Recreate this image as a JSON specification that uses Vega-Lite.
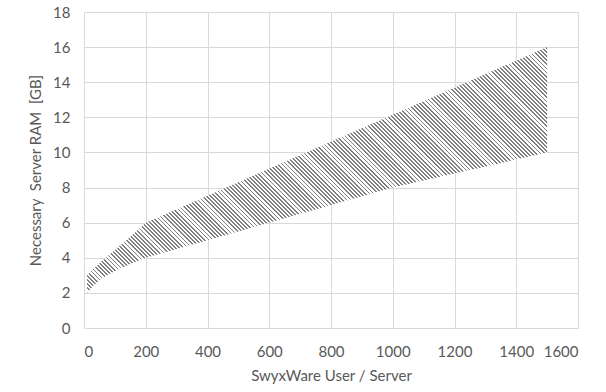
{
  "$schema": "https://vega.github.io/schema/vega-lite/v6.json",
  "width": 494,
  "height": 316,
  "autosize": "none",
  "padding": {"left": 84, "top": 12, "right": 28, "bottom": 64},
  "background": "white",
  "config": {
    "view": {"stroke": null},
    "font": "Lato",
    "axis": {
      "domain": false,
      "ticks": false,
      "tickSize": 0,
      "gridColor": "#d9d9d9",
      "gridWidth": 1,
      "labelColor": "#595959",
      "titleColor": "#595959",
      "labelFont": "Lato",
      "titleFont": "Lato",
      "labelFontSize": 15,
      "titleFontSize": 15,
      "titleFontWeight": "normal"
    }
  },
  "data": {
    "values": [
      {"users": 10, "low": 2.0, "high": 3.0},
      {"users": 30, "low": 2.4, "high": 3.35},
      {"users": 60, "low": 2.85, "high": 3.85},
      {"users": 100, "low": 3.25, "high": 4.45},
      {"users": 150, "low": 3.65, "high": 5.2},
      {"users": 200, "low": 4.0, "high": 6.0},
      {"users": 1000, "low": 8.0, "high": 12.15},
      {"users": 1500, "low": 10.0, "high": 16.0}
    ]
  },
  "encoding": {
    "x": {
      "field": "users",
      "type": "quantitative",
      "scale": {"domain": [0, 1600], "nice": false},
      "axis": {
        "values": [0, 200, 400, 600, 800, 1000, 1200, 1400, 1600],
        "format": "d",
        "title": "SwyxWare User / Server",
        "labelPadding": 16,
        "titlePadding": 9
      }
    },
    "y": {
      "field": "high",
      "type": "quantitative",
      "scale": {"domain": [0, 18], "nice": false},
      "axis": {
        "values": [0, 2, 4, 6, 8, 10, 12, 14, 16, 18],
        "format": "d",
        "title": "Necessary\u00a0 Server RAM\u00a0 [GB]",
        "labelPadding": 14,
        "titlePadding": 9
      }
    },
    "y2": {"field": "low"}
  },
  "layer": [
    {"mark": {"type": "area", "orient": "vertical", "color": "white"}},
    {"mark": {"type": "area", "orient": "vertical", "color": {
      "gradient": "linear", "x1": 0, "y1": 1, "x2": 1, "y2": 0.46574,
      "stops": [
{"offset":0,"color":"gray"},{"offset":0.003,"color":"gray"},{"offset":0.003,"color":"#fff0"},{"offset":0.007,"color":"#fff0"},
{"offset":0.007,"color":"gray"},{"offset":0.01,"color":"gray"},{"offset":0.01,"color":"#fff0"},{"offset":0.014,"color":"#fff0"},
{"offset":0.014,"color":"gray"},{"offset":0.017,"color":"gray"},{"offset":0.017,"color":"#fff0"},{"offset":0.021,"color":"#fff0"},
{"offset":0.021,"color":"gray"},{"offset":0.024,"color":"gray"},{"offset":0.024,"color":"#fff0"},{"offset":0.028,"color":"#fff0"},
{"offset":0.028,"color":"gray"},{"offset":0.031,"color":"gray"},{"offset":0.031,"color":"#fff0"},{"offset":0.035,"color":"#fff0"},
{"offset":0.035,"color":"gray"},{"offset":0.038,"color":"gray"},{"offset":0.038,"color":"#fff0"},{"offset":0.042,"color":"#fff0"},
{"offset":0.042,"color":"gray"},{"offset":0.045,"color":"gray"},{"offset":0.045,"color":"#fff0"},{"offset":0.049,"color":"#fff0"},
{"offset":0.049,"color":"gray"},{"offset":0.052,"color":"gray"},{"offset":0.052,"color":"#fff0"},{"offset":0.056,"color":"#fff0"},
{"offset":0.056,"color":"gray"},{"offset":0.059,"color":"gray"},{"offset":0.059,"color":"#fff0"},{"offset":0.063,"color":"#fff0"},
{"offset":0.063,"color":"gray"},{"offset":0.066,"color":"gray"},{"offset":0.066,"color":"#fff0"},{"offset":0.07,"color":"#fff0"},
{"offset":0.07,"color":"gray"},{"offset":0.073,"color":"gray"},{"offset":0.073,"color":"#fff0"},{"offset":0.077,"color":"#fff0"},
{"offset":0.077,"color":"gray"},{"offset":0.08,"color":"gray"},{"offset":0.08,"color":"#fff0"},{"offset":0.084,"color":"#fff0"},
{"offset":0.084,"color":"gray"},{"offset":0.087,"color":"gray"},{"offset":0.087,"color":"#fff0"},{"offset":0.091,"color":"#fff0"},
{"offset":0.091,"color":"gray"},{"offset":0.094,"color":"gray"},{"offset":0.094,"color":"#fff0"},{"offset":0.098,"color":"#fff0"},
{"offset":0.098,"color":"gray"},{"offset":0.101,"color":"gray"},{"offset":0.101,"color":"#fff0"},{"offset":0.105,"color":"#fff0"},
{"offset":0.105,"color":"gray"},{"offset":0.108,"color":"gray"},{"offset":0.108,"color":"#fff0"},{"offset":0.112,"color":"#fff0"},
{"offset":0.112,"color":"gray"},{"offset":0.115,"color":"gray"},{"offset":0.115,"color":"#fff0"},{"offset":0.119,"color":"#fff0"},
{"offset":0.119,"color":"gray"},{"offset":0.122,"color":"gray"},{"offset":0.122,"color":"#fff0"},{"offset":0.126,"color":"#fff0"},
{"offset":0.126,"color":"gray"},{"offset":0.129,"color":"gray"},{"offset":0.129,"color":"#fff0"},{"offset":0.133,"color":"#fff0"},
{"offset":0.133,"color":"gray"},{"offset":0.136,"color":"gray"},{"offset":0.136,"color":"#fff0"},{"offset":0.14,"color":"#fff0"},
{"offset":0.14,"color":"gray"},{"offset":0.143,"color":"gray"},{"offset":0.143,"color":"#fff0"},{"offset":0.147,"color":"#fff0"},
{"offset":0.147,"color":"gray"},{"offset":0.15,"color":"gray"},{"offset":0.15,"color":"#fff0"},{"offset":0.154,"color":"#fff0"},
{"offset":0.154,"color":"gray"},{"offset":0.157,"color":"gray"},{"offset":0.157,"color":"#fff0"},{"offset":0.161,"color":"#fff0"},
{"offset":0.161,"color":"gray"},{"offset":0.164,"color":"gray"},{"offset":0.164,"color":"#fff0"},{"offset":0.168,"color":"#fff0"},
{"offset":0.168,"color":"gray"},{"offset":0.171,"color":"gray"},{"offset":0.171,"color":"#fff0"},{"offset":0.175,"color":"#fff0"},
{"offset":0.175,"color":"gray"},{"offset":0.178,"color":"gray"},{"offset":0.178,"color":"#fff0"},{"offset":0.182,"color":"#fff0"},
{"offset":0.182,"color":"gray"},{"offset":0.185,"color":"gray"},{"offset":0.185,"color":"#fff0"},{"offset":0.189,"color":"#fff0"},
{"offset":0.189,"color":"gray"},{"offset":0.192,"color":"gray"},{"offset":0.192,"color":"#fff0"},{"offset":0.196,"color":"#fff0"},
{"offset":0.196,"color":"gray"},{"offset":0.199,"color":"gray"},{"offset":0.199,"color":"#fff0"},{"offset":0.203,"color":"#fff0"},
{"offset":0.203,"color":"gray"},{"offset":0.206,"color":"gray"},{"offset":0.206,"color":"#fff0"},{"offset":0.21,"color":"#fff0"},
{"offset":0.21,"color":"gray"},{"offset":0.213,"color":"gray"},{"offset":0.213,"color":"#fff0"},{"offset":0.217,"color":"#fff0"},
{"offset":0.217,"color":"gray"},{"offset":0.22,"color":"gray"},{"offset":0.22,"color":"#fff0"},{"offset":0.224,"color":"#fff0"},
{"offset":0.224,"color":"gray"},{"offset":0.227,"color":"gray"},{"offset":0.227,"color":"#fff0"},{"offset":0.231,"color":"#fff0"},
{"offset":0.231,"color":"gray"},{"offset":0.234,"color":"gray"},{"offset":0.234,"color":"#fff0"},{"offset":0.238,"color":"#fff0"},
{"offset":0.238,"color":"gray"},{"offset":0.241,"color":"gray"},{"offset":0.241,"color":"#fff0"},{"offset":0.245,"color":"#fff0"},
{"offset":0.245,"color":"gray"},{"offset":0.248,"color":"gray"},{"offset":0.248,"color":"#fff0"},{"offset":0.252,"color":"#fff0"},
{"offset":0.252,"color":"gray"},{"offset":0.255,"color":"gray"},{"offset":0.255,"color":"#fff0"},{"offset":0.259,"color":"#fff0"},
{"offset":0.259,"color":"gray"},{"offset":0.262,"color":"gray"},{"offset":0.262,"color":"#fff0"},{"offset":0.266,"color":"#fff0"},
{"offset":0.266,"color":"gray"},{"offset":0.269,"color":"gray"},{"offset":0.269,"color":"#fff0"},{"offset":0.273,"color":"#fff0"},
{"offset":0.273,"color":"gray"},{"offset":0.276,"color":"gray"},{"offset":0.276,"color":"#fff0"},{"offset":0.28,"color":"#fff0"},
{"offset":0.28,"color":"gray"},{"offset":0.283,"color":"gray"},{"offset":0.283,"color":"#fff0"},{"offset":0.287,"color":"#fff0"},
{"offset":0.287,"color":"gray"},{"offset":0.29,"color":"gray"},{"offset":0.29,"color":"#fff0"},{"offset":0.294,"color":"#fff0"},
{"offset":0.294,"color":"gray"},{"offset":0.297,"color":"gray"},{"offset":0.297,"color":"#fff0"},{"offset":0.301,"color":"#fff0"},
{"offset":0.301,"color":"gray"},{"offset":0.304,"color":"gray"},{"offset":0.304,"color":"#fff0"},{"offset":0.308,"color":"#fff0"},
{"offset":0.308,"color":"gray"},{"offset":0.311,"color":"gray"},{"offset":0.311,"color":"#fff0"},{"offset":0.315,"color":"#fff0"},
{"offset":0.315,"color":"gray"},{"offset":0.318,"color":"gray"},{"offset":0.318,"color":"#fff0"},{"offset":0.322,"color":"#fff0"},
{"offset":0.322,"color":"gray"},{"offset":0.325,"color":"gray"},{"offset":0.325,"color":"#fff0"},{"offset":0.329,"color":"#fff0"},
{"offset":0.329,"color":"gray"},{"offset":0.332,"color":"gray"},{"offset":0.332,"color":"#fff0"},{"offset":0.336,"color":"#fff0"},
{"offset":0.336,"color":"gray"},{"offset":0.339,"color":"gray"},{"offset":0.339,"color":"#fff0"},{"offset":0.343,"color":"#fff0"},
{"offset":0.343,"color":"gray"},{"offset":0.346,"color":"gray"},{"offset":0.346,"color":"#fff0"},{"offset":0.35,"color":"#fff0"},
{"offset":0.35,"color":"gray"},{"offset":0.353,"color":"gray"},{"offset":0.353,"color":"#fff0"},{"offset":0.357,"color":"#fff0"},
{"offset":0.357,"color":"gray"},{"offset":0.36,"color":"gray"},{"offset":0.36,"color":"#fff0"},{"offset":0.364,"color":"#fff0"},
{"offset":0.364,"color":"gray"},{"offset":0.367,"color":"gray"},{"offset":0.367,"color":"#fff0"},{"offset":0.371,"color":"#fff0"},
{"offset":0.371,"color":"gray"},{"offset":0.374,"color":"gray"},{"offset":0.374,"color":"#fff0"},{"offset":0.378,"color":"#fff0"},
{"offset":0.378,"color":"gray"},{"offset":0.381,"color":"gray"},{"offset":0.381,"color":"#fff0"},{"offset":0.385,"color":"#fff0"},
{"offset":0.385,"color":"gray"},{"offset":0.388,"color":"gray"},{"offset":0.388,"color":"#fff0"},{"offset":0.392,"color":"#fff0"},
{"offset":0.392,"color":"gray"},{"offset":0.395,"color":"gray"},{"offset":0.395,"color":"#fff0"},{"offset":0.399,"color":"#fff0"},
{"offset":0.399,"color":"gray"},{"offset":0.402,"color":"gray"},{"offset":0.402,"color":"#fff0"},{"offset":0.406,"color":"#fff0"},
{"offset":0.406,"color":"gray"},{"offset":0.409,"color":"gray"},{"offset":0.409,"color":"#fff0"},{"offset":0.413,"color":"#fff0"},
{"offset":0.413,"color":"gray"},{"offset":0.416,"color":"gray"},{"offset":0.416,"color":"#fff0"},{"offset":0.42,"color":"#fff0"},
{"offset":0.42,"color":"gray"},{"offset":0.423,"color":"gray"},{"offset":0.423,"color":"#fff0"},{"offset":0.427,"color":"#fff0"},
{"offset":0.427,"color":"gray"},{"offset":0.43,"color":"gray"},{"offset":0.43,"color":"#fff0"},{"offset":0.434,"color":"#fff0"},
{"offset":0.434,"color":"gray"},{"offset":0.437,"color":"gray"},{"offset":0.437,"color":"#fff0"},{"offset":0.441,"color":"#fff0"},
{"offset":0.441,"color":"gray"},{"offset":0.444,"color":"gray"},{"offset":0.444,"color":"#fff0"},{"offset":0.448,"color":"#fff0"},
{"offset":0.448,"color":"gray"},{"offset":0.451,"color":"gray"},{"offset":0.451,"color":"#fff0"},{"offset":0.455,"color":"#fff0"},
{"offset":0.455,"color":"gray"},{"offset":0.458,"color":"gray"},{"offset":0.458,"color":"#fff0"},{"offset":0.462,"color":"#fff0"},
{"offset":0.462,"color":"gray"},{"offset":0.465,"color":"gray"},{"offset":0.465,"color":"#fff0"},{"offset":0.469,"color":"#fff0"},
{"offset":0.469,"color":"gray"},{"offset":0.472,"color":"gray"},{"offset":0.472,"color":"#fff0"},{"offset":0.476,"color":"#fff0"},
{"offset":0.476,"color":"gray"},{"offset":0.479,"color":"gray"},{"offset":0.479,"color":"#fff0"},{"offset":0.483,"color":"#fff0"},
{"offset":0.483,"color":"gray"},{"offset":0.486,"color":"gray"},{"offset":0.486,"color":"#fff0"},{"offset":0.49,"color":"#fff0"},
{"offset":0.49,"color":"gray"},{"offset":0.493,"color":"gray"},{"offset":0.493,"color":"#fff0"},{"offset":0.497,"color":"#fff0"},
{"offset":0.497,"color":"gray"},{"offset":0.5,"color":"gray"},{"offset":0.5,"color":"#fff0"},{"offset":0.504,"color":"#fff0"},
{"offset":0.504,"color":"gray"},{"offset":0.507,"color":"gray"},{"offset":0.507,"color":"#fff0"},{"offset":0.511,"color":"#fff0"},
{"offset":0.511,"color":"gray"},{"offset":0.514,"color":"gray"},{"offset":0.514,"color":"#fff0"},{"offset":0.518,"color":"#fff0"},
{"offset":0.518,"color":"gray"},{"offset":0.521,"color":"gray"},{"offset":0.521,"color":"#fff0"},{"offset":0.525,"color":"#fff0"},
{"offset":0.525,"color":"gray"},{"offset":0.528,"color":"gray"},{"offset":0.528,"color":"#fff0"},{"offset":0.532,"color":"#fff0"},
{"offset":0.532,"color":"gray"},{"offset":0.535,"color":"gray"},{"offset":0.535,"color":"#fff0"},{"offset":0.539,"color":"#fff0"},
{"offset":0.539,"color":"gray"},{"offset":0.542,"color":"gray"},{"offset":0.542,"color":"#fff0"},{"offset":0.546,"color":"#fff0"},
{"offset":0.546,"color":"gray"},{"offset":0.549,"color":"gray"},{"offset":0.549,"color":"#fff0"},{"offset":0.553,"color":"#fff0"},
{"offset":0.553,"color":"gray"},{"offset":0.556,"color":"gray"},{"offset":0.556,"color":"#fff0"},{"offset":0.56,"color":"#fff0"},
{"offset":0.56,"color":"gray"},{"offset":0.563,"color":"gray"},{"offset":0.563,"color":"#fff0"},{"offset":0.567,"color":"#fff0"},
{"offset":0.567,"color":"gray"},{"offset":0.57,"color":"gray"},{"offset":0.57,"color":"#fff0"},{"offset":0.574,"color":"#fff0"},
{"offset":0.574,"color":"gray"},{"offset":0.577,"color":"gray"},{"offset":0.577,"color":"#fff0"},{"offset":0.581,"color":"#fff0"},
{"offset":0.581,"color":"gray"},{"offset":0.584,"color":"gray"},{"offset":0.584,"color":"#fff0"},{"offset":0.588,"color":"#fff0"},
{"offset":0.588,"color":"gray"},{"offset":0.591,"color":"gray"},{"offset":0.591,"color":"#fff0"},{"offset":0.595,"color":"#fff0"},
{"offset":0.595,"color":"gray"},{"offset":0.598,"color":"gray"},{"offset":0.598,"color":"#fff0"},{"offset":0.602,"color":"#fff0"},
{"offset":0.602,"color":"gray"},{"offset":0.605,"color":"gray"},{"offset":0.605,"color":"#fff0"},{"offset":0.609,"color":"#fff0"},
{"offset":0.609,"color":"gray"},{"offset":0.612,"color":"gray"},{"offset":0.612,"color":"#fff0"},{"offset":0.616,"color":"#fff0"},
{"offset":0.616,"color":"gray"},{"offset":0.619,"color":"gray"},{"offset":0.619,"color":"#fff0"},{"offset":0.623,"color":"#fff0"},
{"offset":0.623,"color":"gray"},{"offset":0.626,"color":"gray"},{"offset":0.626,"color":"#fff0"},{"offset":0.63,"color":"#fff0"},
{"offset":0.63,"color":"gray"},{"offset":0.633,"color":"gray"},{"offset":0.633,"color":"#fff0"},{"offset":0.637,"color":"#fff0"},
{"offset":0.637,"color":"gray"},{"offset":0.64,"color":"gray"},{"offset":0.64,"color":"#fff0"},{"offset":0.644,"color":"#fff0"},
{"offset":0.644,"color":"gray"},{"offset":0.647,"color":"gray"},{"offset":0.647,"color":"#fff0"},{"offset":0.651,"color":"#fff0"},
{"offset":0.651,"color":"gray"},{"offset":0.654,"color":"gray"},{"offset":0.654,"color":"#fff0"},{"offset":0.658,"color":"#fff0"},
{"offset":0.658,"color":"gray"},{"offset":0.661,"color":"gray"},{"offset":0.661,"color":"#fff0"},{"offset":0.665,"color":"#fff0"},
{"offset":0.665,"color":"gray"},{"offset":0.668,"color":"gray"},{"offset":0.668,"color":"#fff0"},{"offset":0.672,"color":"#fff0"},
{"offset":0.672,"color":"gray"},{"offset":0.675,"color":"gray"},{"offset":0.675,"color":"#fff0"},{"offset":0.679,"color":"#fff0"},
{"offset":0.679,"color":"gray"},{"offset":0.682,"color":"gray"},{"offset":0.682,"color":"#fff0"},{"offset":0.686,"color":"#fff0"},
{"offset":0.686,"color":"gray"},{"offset":0.689,"color":"gray"},{"offset":0.689,"color":"#fff0"},{"offset":0.693,"color":"#fff0"},
{"offset":0.693,"color":"gray"},{"offset":0.696,"color":"gray"},{"offset":0.696,"color":"#fff0"},{"offset":0.7,"color":"#fff0"},
{"offset":0.7,"color":"gray"},{"offset":0.703,"color":"gray"},{"offset":0.703,"color":"#fff0"},{"offset":0.707,"color":"#fff0"},
{"offset":0.707,"color":"gray"},{"offset":0.71,"color":"gray"},{"offset":0.71,"color":"#fff0"},{"offset":0.714,"color":"#fff0"},
{"offset":0.714,"color":"gray"},{"offset":0.717,"color":"gray"},{"offset":0.717,"color":"#fff0"},{"offset":0.721,"color":"#fff0"},
{"offset":0.721,"color":"gray"},{"offset":0.724,"color":"gray"},{"offset":0.724,"color":"#fff0"},{"offset":0.728,"color":"#fff0"},
{"offset":0.728,"color":"gray"},{"offset":0.731,"color":"gray"},{"offset":0.731,"color":"#fff0"},{"offset":0.735,"color":"#fff0"},
{"offset":0.735,"color":"gray"},{"offset":0.738,"color":"gray"},{"offset":0.738,"color":"#fff0"},{"offset":0.742,"color":"#fff0"},
{"offset":0.742,"color":"gray"},{"offset":0.745,"color":"gray"},{"offset":0.745,"color":"#fff0"},{"offset":0.749,"color":"#fff0"},
{"offset":0.749,"color":"gray"},{"offset":0.752,"color":"gray"},{"offset":0.752,"color":"#fff0"},{"offset":0.756,"color":"#fff0"},
{"offset":0.756,"color":"gray"},{"offset":0.759,"color":"gray"},{"offset":0.759,"color":"#fff0"},{"offset":0.763,"color":"#fff0"},
{"offset":0.763,"color":"gray"},{"offset":0.766,"color":"gray"},{"offset":0.766,"color":"#fff0"},{"offset":0.77,"color":"#fff0"},
{"offset":0.77,"color":"gray"},{"offset":0.773,"color":"gray"},{"offset":0.773,"color":"#fff0"},{"offset":0.777,"color":"#fff0"},
{"offset":0.777,"color":"gray"},{"offset":0.78,"color":"gray"},{"offset":0.78,"color":"#fff0"},{"offset":0.784,"color":"#fff0"},
{"offset":0.784,"color":"gray"},{"offset":0.787,"color":"gray"},{"offset":0.787,"color":"#fff0"},{"offset":0.791,"color":"#fff0"},
{"offset":0.791,"color":"gray"},{"offset":0.794,"color":"gray"},{"offset":0.794,"color":"#fff0"},{"offset":0.798,"color":"#fff0"},
{"offset":0.798,"color":"gray"},{"offset":0.801,"color":"gray"},{"offset":0.801,"color":"#fff0"},{"offset":0.805,"color":"#fff0"},
{"offset":0.805,"color":"gray"},{"offset":0.808,"color":"gray"},{"offset":0.808,"color":"#fff0"},{"offset":0.812,"color":"#fff0"},
{"offset":0.812,"color":"gray"},{"offset":0.815,"color":"gray"},{"offset":0.815,"color":"#fff0"},{"offset":0.819,"color":"#fff0"},
{"offset":0.819,"color":"gray"},{"offset":0.822,"color":"gray"},{"offset":0.822,"color":"#fff0"},{"offset":0.826,"color":"#fff0"},
{"offset":0.826,"color":"gray"},{"offset":0.829,"color":"gray"},{"offset":0.829,"color":"#fff0"},{"offset":0.833,"color":"#fff0"},
{"offset":0.833,"color":"gray"},{"offset":0.836,"color":"gray"},{"offset":0.836,"color":"#fff0"},{"offset":0.84,"color":"#fff0"},
{"offset":0.84,"color":"gray"},{"offset":0.843,"color":"gray"},{"offset":0.843,"color":"#fff0"},{"offset":0.847,"color":"#fff0"},
{"offset":0.847,"color":"gray"},{"offset":0.85,"color":"gray"},{"offset":0.85,"color":"#fff0"},{"offset":0.854,"color":"#fff0"},
{"offset":0.854,"color":"gray"},{"offset":0.857,"color":"gray"},{"offset":0.857,"color":"#fff0"},{"offset":0.861,"color":"#fff0"},
{"offset":0.861,"color":"gray"},{"offset":0.864,"color":"gray"},{"offset":0.864,"color":"#fff0"},{"offset":0.868,"color":"#fff0"},
{"offset":0.868,"color":"gray"},{"offset":0.871,"color":"gray"},{"offset":0.871,"color":"#fff0"},{"offset":0.875,"color":"#fff0"},
{"offset":0.875,"color":"gray"},{"offset":0.878,"color":"gray"},{"offset":0.878,"color":"#fff0"},{"offset":0.882,"color":"#fff0"},
{"offset":0.882,"color":"gray"},{"offset":0.885,"color":"gray"},{"offset":0.885,"color":"#fff0"},{"offset":0.889,"color":"#fff0"},
{"offset":0.889,"color":"gray"},{"offset":0.892,"color":"gray"},{"offset":0.892,"color":"#fff0"},{"offset":0.896,"color":"#fff0"},
{"offset":0.896,"color":"gray"},{"offset":0.899,"color":"gray"},{"offset":0.899,"color":"#fff0"},{"offset":0.903,"color":"#fff0"},
{"offset":0.903,"color":"gray"},{"offset":0.906,"color":"gray"},{"offset":0.906,"color":"#fff0"},{"offset":0.91,"color":"#fff0"},
{"offset":0.91,"color":"gray"},{"offset":0.913,"color":"gray"},{"offset":0.913,"color":"#fff0"},{"offset":0.917,"color":"#fff0"},
{"offset":0.917,"color":"gray"},{"offset":0.92,"color":"gray"},{"offset":0.92,"color":"#fff0"},{"offset":0.924,"color":"#fff0"},
{"offset":0.924,"color":"gray"},{"offset":0.927,"color":"gray"},{"offset":0.927,"color":"#fff0"},{"offset":0.931,"color":"#fff0"},
{"offset":0.931,"color":"gray"},{"offset":0.934,"color":"gray"},{"offset":0.934,"color":"#fff0"},{"offset":0.938,"color":"#fff0"},
{"offset":0.938,"color":"gray"},{"offset":0.941,"color":"gray"},{"offset":0.941,"color":"#fff0"},{"offset":0.945,"color":"#fff0"},
{"offset":0.945,"color":"gray"},{"offset":0.948,"color":"gray"},{"offset":0.948,"color":"#fff0"},{"offset":0.952,"color":"#fff0"},
{"offset":0.952,"color":"gray"},{"offset":0.955,"color":"gray"},{"offset":0.955,"color":"#fff0"},{"offset":0.959,"color":"#fff0"},
{"offset":0.959,"color":"gray"},{"offset":0.962,"color":"gray"},{"offset":0.962,"color":"#fff0"},{"offset":0.966,"color":"#fff0"},
{"offset":0.966,"color":"gray"},{"offset":0.969,"color":"gray"},{"offset":0.969,"color":"#fff0"},{"offset":0.973,"color":"#fff0"},
{"offset":0.973,"color":"gray"},{"offset":0.976,"color":"gray"},{"offset":0.976,"color":"#fff0"},{"offset":0.98,"color":"#fff0"},
{"offset":0.98,"color":"gray"},{"offset":0.983,"color":"gray"},{"offset":0.983,"color":"#fff0"},{"offset":0.987,"color":"#fff0"},
{"offset":0.987,"color":"gray"},{"offset":0.99,"color":"gray"},{"offset":0.99,"color":"#fff0"},{"offset":0.994,"color":"#fff0"},
{"offset":0.994,"color":"gray"},{"offset":0.997,"color":"gray"},{"offset":0.997,"color":"#fff0"},{"offset":1,"color":"#fff0"}
      ]}}},
    {"mark": {"type": "area", "orient": "vertical", "color": {
      "gradient": "linear", "x1": 1, "y1": 0, "x2": 0, "y2": 0.53426,
      "stops": [
{"offset":0,"color":"#fff0"},
{"offset":0.00057,"color":"#fff0"},{"offset":0.00057,"color":"gray"},{"offset":0.00357,"color":"gray"},{"offset":0.00357,"color":"#fff0"},
{"offset":0.00757,"color":"#fff0"},{"offset":0.00757,"color":"gray"},{"offset":0.01057,"color":"gray"},{"offset":0.01057,"color":"#fff0"},
{"offset":0.01457,"color":"#fff0"},{"offset":0.01457,"color":"gray"},{"offset":0.01757,"color":"gray"},{"offset":0.01757,"color":"#fff0"},
{"offset":0.02157,"color":"#fff0"},{"offset":0.02157,"color":"gray"},{"offset":0.02457,"color":"gray"},{"offset":0.02457,"color":"#fff0"},
{"offset":0.02857,"color":"#fff0"},{"offset":0.02857,"color":"gray"},{"offset":0.03157,"color":"gray"},{"offset":0.03157,"color":"#fff0"},
{"offset":0.03557,"color":"#fff0"},{"offset":0.03557,"color":"gray"},{"offset":0.03857,"color":"gray"},{"offset":0.03857,"color":"#fff0"},
{"offset":0.04257,"color":"#fff0"},{"offset":0.04257,"color":"gray"},{"offset":0.04557,"color":"gray"},{"offset":0.04557,"color":"#fff0"},
{"offset":0.04957,"color":"#fff0"},{"offset":0.04957,"color":"gray"},{"offset":0.05257,"color":"gray"},{"offset":0.05257,"color":"#fff0"},
{"offset":0.05657,"color":"#fff0"},{"offset":0.05657,"color":"gray"},{"offset":0.05957,"color":"gray"},{"offset":0.05957,"color":"#fff0"},
{"offset":0.06357,"color":"#fff0"},{"offset":0.06357,"color":"gray"},{"offset":0.06657,"color":"gray"},{"offset":0.06657,"color":"#fff0"},
{"offset":0.07057,"color":"#fff0"},{"offset":0.07057,"color":"gray"},{"offset":0.07357,"color":"gray"},{"offset":0.07357,"color":"#fff0"},
{"offset":0.07757,"color":"#fff0"},{"offset":0.07757,"color":"gray"},{"offset":0.08057,"color":"gray"},{"offset":0.08057,"color":"#fff0"},
{"offset":0.08457,"color":"#fff0"},{"offset":0.08457,"color":"gray"},{"offset":0.08757,"color":"gray"},{"offset":0.08757,"color":"#fff0"},
{"offset":0.09157,"color":"#fff0"},{"offset":0.09157,"color":"gray"},{"offset":0.09457,"color":"gray"},{"offset":0.09457,"color":"#fff0"},
{"offset":0.09857,"color":"#fff0"},{"offset":0.09857,"color":"gray"},{"offset":0.10157,"color":"gray"},{"offset":0.10157,"color":"#fff0"},
{"offset":0.10557,"color":"#fff0"},{"offset":0.10557,"color":"gray"},{"offset":0.10857,"color":"gray"},{"offset":0.10857,"color":"#fff0"},
{"offset":0.11257,"color":"#fff0"},{"offset":0.11257,"color":"gray"},{"offset":0.11557,"color":"gray"},{"offset":0.11557,"color":"#fff0"},
{"offset":0.11957,"color":"#fff0"},{"offset":0.11957,"color":"gray"},{"offset":0.12257,"color":"gray"},{"offset":0.12257,"color":"#fff0"},
{"offset":0.12657,"color":"#fff0"},{"offset":0.12657,"color":"gray"},{"offset":0.12957,"color":"gray"},{"offset":0.12957,"color":"#fff0"},
{"offset":0.13357,"color":"#fff0"},{"offset":0.13357,"color":"gray"},{"offset":0.13657,"color":"gray"},{"offset":0.13657,"color":"#fff0"},
{"offset":0.14057,"color":"#fff0"},{"offset":0.14057,"color":"gray"},{"offset":0.14357,"color":"gray"},{"offset":0.14357,"color":"#fff0"},
{"offset":0.14757,"color":"#fff0"},{"offset":0.14757,"color":"gray"},{"offset":0.15057,"color":"gray"},{"offset":0.15057,"color":"#fff0"},
{"offset":0.15457,"color":"#fff0"},{"offset":0.15457,"color":"gray"},{"offset":0.15757,"color":"gray"},{"offset":0.15757,"color":"#fff0"},
{"offset":0.16157,"color":"#fff0"},{"offset":0.16157,"color":"gray"},{"offset":0.16457,"color":"gray"},{"offset":0.16457,"color":"#fff0"},
{"offset":0.16857,"color":"#fff0"},{"offset":0.16857,"color":"gray"},{"offset":0.17157,"color":"gray"},{"offset":0.17157,"color":"#fff0"},
{"offset":0.17557,"color":"#fff0"},{"offset":0.17557,"color":"gray"},{"offset":0.17857,"color":"gray"},{"offset":0.17857,"color":"#fff0"},
{"offset":0.18257,"color":"#fff0"},{"offset":0.18257,"color":"gray"},{"offset":0.18557,"color":"gray"},{"offset":0.18557,"color":"#fff0"},
{"offset":0.18957,"color":"#fff0"},{"offset":0.18957,"color":"gray"},{"offset":0.19257,"color":"gray"},{"offset":0.19257,"color":"#fff0"},
{"offset":1,"color":"#fff0"}
      ]}}}
  ]
}
